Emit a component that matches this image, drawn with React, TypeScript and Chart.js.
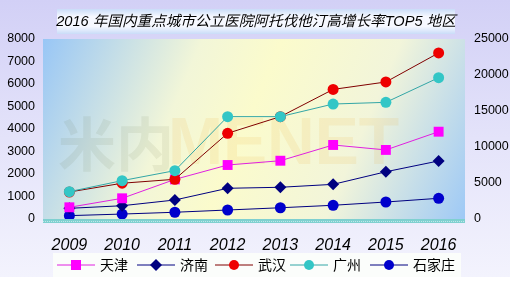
import React, { useEffect, useRef } from "react";
import { Chart, registerables } from "chart.js";

Chart.register(...registerables);

const TITLE = "2016 年国内重点城市公立医院阿托伐他汀高增长率TOP5 地区";
const YEARS = ["2009", "2010", "2011", "2012", "2013", "2014", "2015", "2016"];
const TIANJIN = [520, 920, 1760, 2400, 2590, 3290, 3070, 3880];
const JINAN = [475, 590, 845, 1365, 1410, 1540, 2100, 2580];
const WUHAN = [1200, 1590, 1765, 3810, 4550, 5760, 6090, 7380];
const GUANGZHOU = [1215, 1705, 2150, 4550, 4550, 5110, 5185, 6280];
const SHIJIAZHUANG = [150, 220, 300, 400, 500, 610, 755, 920];
const LEFT_TICKS = [0, 8000, 1000];
const RIGHT_TICKS = [0, 25000, 5000];

const FONT = '"Liberation Sans", "Noto Sans CJK SC", sans-serif';

const bgPlugin = {
  id: "bgPlugin",
  beforeDraw(chart: any) {
    const { ctx, chartArea: a } = chart;
    ctx.save();
    const g = ctx.createLinearGradient(0, 0, 0, 277);
    g.addColorStop(0, "#d2d0f6");
    g.addColorStop(0.5, "#e4e3fa");
    g.addColorStop(1, "#f3f3fd");
    ctx.fillStyle = g;
    ctx.fillRect(0, 0, 510, 277);
    const pg = ctx.createLinearGradient(a.left, a.top, a.right, a.bottom);
    pg.addColorStop(0, "#98c6f6");
    pg.addColorStop(0.32, "#f2f6d8");
    pg.addColorStop(0.48, "#fbfbcc");
    pg.addColorStop(0.72, "#f2f5da");
    pg.addColorStop(1, "#9ec9f6");
    ctx.fillStyle = pg;
    ctx.fillRect(a.left, a.top, a.right - a.left, a.bottom - a.top);
    ctx.globalAlpha = 0.08;
    ctx.font = 'bold 58px "Noto Sans CJK SC", sans-serif';
    ctx.textBaseline = "middle";
    ctx.fillStyle = "#4a5a20";
    ctx.fillText("米内", 58, 144);
    ctx.globalAlpha = 0.1;
    ctx.font = 'bold 66px "Liberation Sans", sans-serif';
    ctx.fillStyle = "#e8a010";
    ctx.fillText("MENET", 168, 146);
    ctx.globalAlpha = 1;
    ctx.fillStyle = "#7fd0d0";
    ctx.fillRect(a.left, a.bottom, a.right - a.left, 4);
    ctx.fillStyle = "rgba(255,255,255,0.5)";
    for (let x = a.left; x < a.right; x += 2) {
      ctx.fillRect(x, a.bottom + ((x / 2) % 2 === 0 ? 1 : 2), 1, 1);
    }
    const tg = ctx.createLinearGradient(0, 9, 0, 34);
    tg.addColorStop(0, "#c9dcf8");
    tg.addColorStop(0.3, "#f6f8ff");
    tg.addColorStop(0.7, "#f6f8ff");
    tg.addColorStop(1, "#c9dcf8");
    ctx.fillStyle = tg;
    ctx.fillRect(57, 9, 398, 25);
    ctx.font = "italic 14.6px " + FONT;
    ctx.fillStyle = "#000";
    ctx.textAlign = "center";
    ctx.textBaseline = "middle";
    ctx.fillText(TITLE, 256, 22);
    ctx.restore();
  },
  afterDraw(chart: any) {
    const { ctx } = chart;
    ctx.save();
    ctx.fillStyle = "#fbfdfb";
    ctx.fillRect(53, 253, 408, 24);
    const y = 265;
    chart.data.datasets.forEach((ds: any, i: number) => {
      const xs = [57, 137, 215, 290, 370][i];
      ctx.strokeStyle = ds.borderColor;
      ctx.lineWidth = 1;
      ctx.beginPath();
      ctx.moveTo(xs, y);
      ctx.lineTo(xs + 38, y);
      ctx.stroke();
      ctx.fillStyle = ds.pointBackgroundColor;
      const cx = xs + 19;
      ctx.beginPath();
      if (ds.pointStyle === "rect") {
        ctx.rect(cx - 5, y - 5, 10, 10);
      } else if (ds.pointStyle === "rectRot") {
        ctx.moveTo(cx, y - 6);
        ctx.lineTo(cx + 6, y);
        ctx.lineTo(cx, y + 6);
        ctx.lineTo(cx - 6, y);
        ctx.closePath();
      } else {
        ctx.arc(cx, y, 5, 0, Math.PI * 2);
      }
      ctx.fill();
      ctx.font = '14px "Noto Sans CJK SC", sans-serif';
      ctx.fillStyle = "#000";
      ctx.textAlign = "left";
      ctx.textBaseline = "middle";
      ctx.fillText(ds.label, xs + 43, y);
    });
    ctx.restore();
  },
};

export default function App() {
  const ref = useRef<HTMLCanvasElement>(null);
  useEffect(() => {
    document.body.style.margin = "0";
    const mk = (label: string, data: number[], line: string, fill: string, style: string, r: number, order: number) => ({
      label,
      data,
      order,
      borderColor: line,
      borderWidth: 1,
      backgroundColor: fill,
      pointBackgroundColor: fill,
      pointBorderColor: fill,
      pointBorderWidth: 0,
      pointStyle: style,
      pointRadius: r,
      tension: 0,
      yAxisID: "y",
    });
    const plain = (v: any) => String(v);
    const chart = new Chart(ref.current!, {
      type: "line",
      data: {
        labels: YEARS,
        datasets: [
          mk("天津", TIANJIN, "#e020e0", "#ff00ff", "rect", 7, 2),
          mk("济南", JINAN, "#000080", "#000080", "rectRot", 6, 3),
          mk("武汉", WUHAN, "#800000", "#ee0000", "circle", 5.5, 1),
          mk("广州", GUANGZHOU, "#33a6a6", "#33c6c6", "circle", 5.5, 0),
          mk("石家庄", SHIJIAZHUANG, "#000080", "#0000cc", "circle", 5.5, 4),
        ] as any,
      },
      options: {
        animation: false,
        responsive: false,
        layout: { padding: { top: 39, bottom: 30, left: 0, right: 0 } },
        plugins: { legend: { display: false }, title: { display: false }, tooltip: { enabled: false } },
        scales: {
          x: {
            offset: true,
            grid: { display: false, drawTicks: false },
            border: { display: false },
            ticks: { font: { family: FONT, size: 16, style: "italic" }, color: "#000", padding: 17 },
            afterFit: (s: any) => { s.height = 32; },
          },
          y: {
            position: "left",
            min: LEFT_TICKS[0],
            max: LEFT_TICKS[1],
            ticks: { stepSize: LEFT_TICKS[2], font: { family: FONT, size: 12.5 }, color: "#000", padding: 8, callback: plain },
            grid: { display: false, drawTicks: false },
            border: { display: false },
            afterFit: (s: any) => { s.width = 43; },
          },
          y1: {
            position: "right",
            display: true,
            min: RIGHT_TICKS[0],
            max: RIGHT_TICKS[1],
            ticks: { stepSize: RIGHT_TICKS[2], font: { family: FONT, size: 12.5 }, color: "#000", padding: 9, callback: plain },
            grid: { display: false, drawTicks: false },
            border: { display: false },
            afterFit: (s: any) => { s.width = 50; },
          },
        },
      } as any,
      plugins: [bgPlugin],
    });
    return () => chart.destroy();
  }, []);
  return (
    <div style={{ position: "absolute", left: 0, top: 0, width: 515, height: 281, background: "#fff" }}>
      <canvas ref={ref} width={515} height={281} style={{ display: "block" }} />
    </div>
  );
}
